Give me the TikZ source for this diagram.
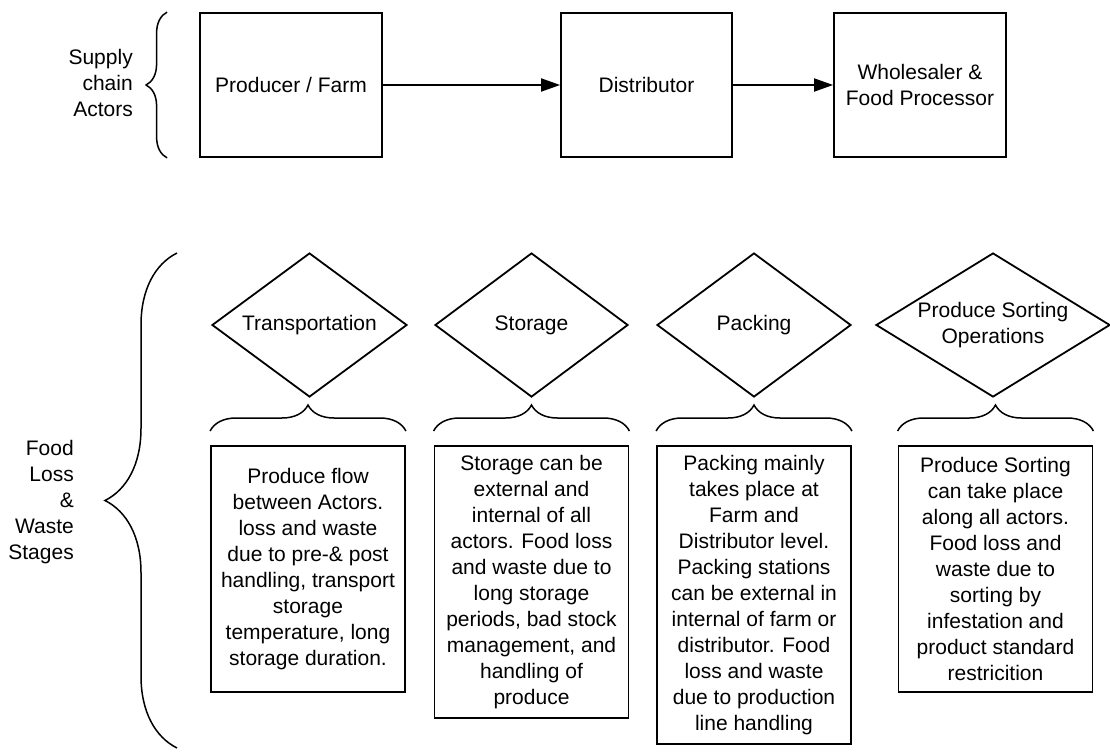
\documentclass[tikz,border=0pt]{standalone}
\usepackage{fontspec}
\setmainfont{Liberation Sans}
\usetikzlibrary{shapes.geometric,arrows.meta,decorations.pathreplacing}

\begin{document}
\begin{tikzpicture}[x=1pt,y=-1pt,
    font=\fontsize{21}{26}\selectfont, line width=1.8pt,
    actor/.style={draw, minimum height=144pt, align=center},
    stage/.style={draw, shape=diamond, inner sep=-20pt, minimum height=144pt, align=center},
    note/.style={draw, anchor=north, minimum width=194pt, align=center},
    flow/.style={-{Triangle[length=19pt,width=13pt]}},
    curly/.style={decorate, line width=1.5pt, decoration={brace, amplitude=#1}}]
    \useasboundingbox (0,0) rectangle (1110,755);
    % supply chain actors
    \node[actor, minimum width=182pt] (farm) at (291,85) {Producer / Farm};
    \node[actor, minimum width=171pt] (dist) at (646.5,85) {Distributor};
    \node[actor, minimum width=172pt] (whole) at (920,85) {Wholesaler \&\\Food Processor};
    \draw[flow] (farm) -- (dist);
    \draw[flow] (dist) -- (whole);
    \draw[curly=21pt] ([xshift=-32pt]farm.south west) -- ([xshift=-32pt]farm.north west);
    \node[anchor=east, align=right] (actors) at (137,83) {Supply\\chain\\Actors};
    % loss and waste stages
    \node[stage, minimum width=195pt] (trans) at (309.5,325) {Transportation};
    \node[stage, minimum width=193pt] (stor) at (531.5,325) {Storage};
    \node[stage, minimum width=194pt] (pack) at (754,325) {Packing};
    \node[stage, minimum width=234pt] (sort) at (993,325) {Produce Sorting\\Operations};
    \node[note, minimum height=246pt] (tnote) at (308,445)
        {Produce flow\\between Actors.\\loss and waste\\due to pre-\& post\\handling, transport\\storage\\temperature, long\\storage duration.};
    \node[note, minimum height=272pt] (snote) at (531.5,445)
        {Storage can be\\external and\\internal of all\\actors. Food loss\\and waste due to\\long storage\\periods, bad stock\\management, and\\handling of\\produce};
    \node[note, minimum height=298pt] (pnote) at (754,445)
        {Packing mainly\\takes place at\\Farm and\\Distributor level.\\Packing stations\\can be external in\\internal of farm or\\distributor. Food\\loss and waste\\due to production\\line handling};
    \node[note, minimum height=246pt] (onote) at (995.5,445)
        {Produce Sorting\\can take place\\along all actors.\\Food loss and\\waste due to\\sorting by\\infestation and\\product standard\\restricition};
    \foreach \n in {tnote,snote,pnote,onote}
        \draw[curly=26pt] ([yshift=14pt]\n.north west) -- ([yshift=14pt]\n.north east);
    \draw[curly=72pt] (177,748) -- (177,253);
    \node[anchor=east, align=right] (stages) at (78,502) {Food\\Loss\\\&\\Waste\\Stages};
\end{tikzpicture}
\end{document}
